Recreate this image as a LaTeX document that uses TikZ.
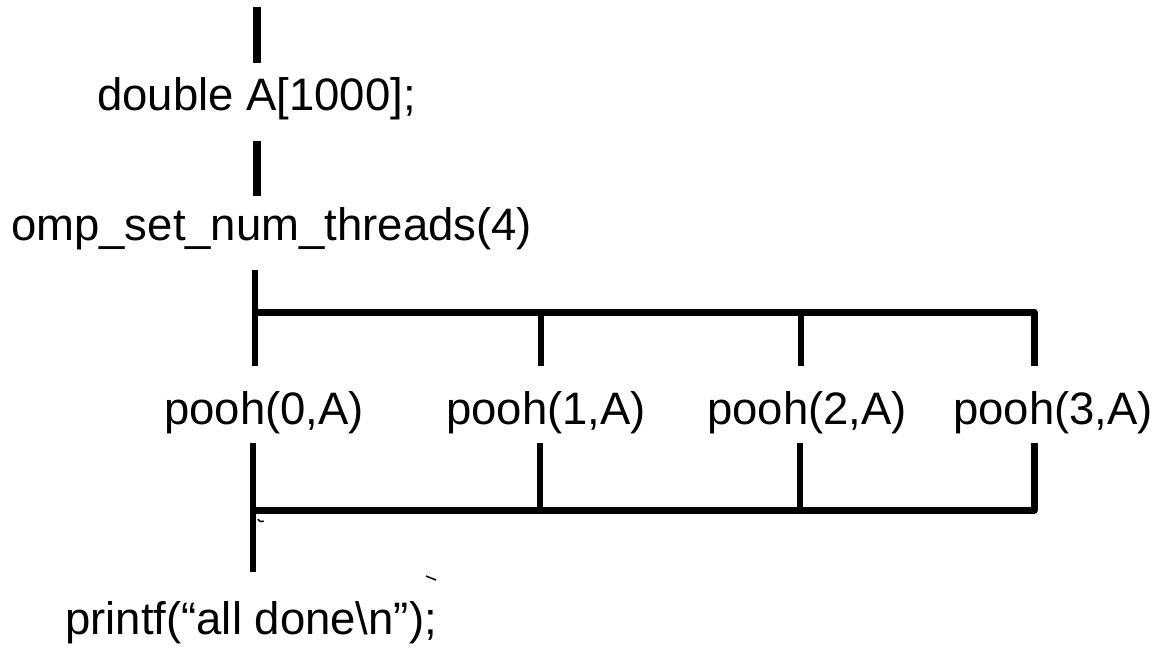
\documentclass[tikz,border=0pt]{standalone}
\usepackage{fontspec}
\setmainfont{Liberation Sans}
\begin{document}
\begin{tikzpicture}[x=1pt,y=-1pt,
  lbl/.style={anchor=base west,inner sep=0pt,font=\fontsize{45.5}{54}\selectfont},
  thickv/.style={line width=8pt},
  bar/.style={line width=7pt,line join=round},
  thinv/.style={line width=6pt}]
\useasboundingbox (0,0) rectangle (1159,646);
% texts
\node[lbl] (dbl) at (97,110) {double A[1000];};
\node[lbl] (omp) at (11,240) {omp\_set\_num\_threads(4)};
\node[lbl] (p0) at (164,424) {pooh(0,A)};
\node[lbl] (p1) at (446,424) {pooh(1,A)};
\node[lbl] (p2) at (707,424) {pooh(2,A)};
\node[lbl] (p3) at (953,424) {pooh(3,A)};
\node[lbl] (pf) at (65,634) {printf(“all done\textbackslash n”);};
% coordinates
\coordinate (t0) at (257,7);
\coordinate (t1) at (257,63);
\coordinate (m0) at (257,141);
\coordinate (m1) at (257,196);
\coordinate (f0) at (255,270);
\coordinate (fL) at (255,312);
\coordinate (f1) at (541,312);
\coordinate (f2) at (801,312);
\coordinate (f3) at (1034,312);
\coordinate (a0) at (255,366);
\coordinate (a1) at (541,366);
\coordinate (a2) at (801,366);
\coordinate (a3) at (1034,366);
\coordinate (b0) at (253,443);
\coordinate (b1) at (540,443);
\coordinate (b2) at (800,443);
\coordinate (b3) at (1034,443);
\coordinate (jL) at (253,510);
\coordinate (j1) at (540,510);
\coordinate (j2) at (800,510);
\coordinate (j3) at (1034,510);
\coordinate (e0) at (253,572);
% connectors
\draw[thickv] (t0) -- (t1);
\draw[thickv] (m0) -- (m1);
\draw[thinv] (f0) -- (a0);
\draw[bar] (fL) -- (f3) -- (a3);
\draw[thinv] (f1) -- (a1);
\draw[thinv] (f2) -- (a2);
\draw[thinv] (b0) -- (e0);
\draw[bar] (jL) -- (j3) -- (b3);
\draw[thinv] (b1) -- (j1);
\draw[thinv] (b2) -- (j2);
% small marks
\draw[line width=1.5pt] (258,519) arc[start angle=160,end angle=60,radius=4];
\draw[line width=1.5pt] (426,576) -- (436,580);
\end{tikzpicture}
\end{document}
